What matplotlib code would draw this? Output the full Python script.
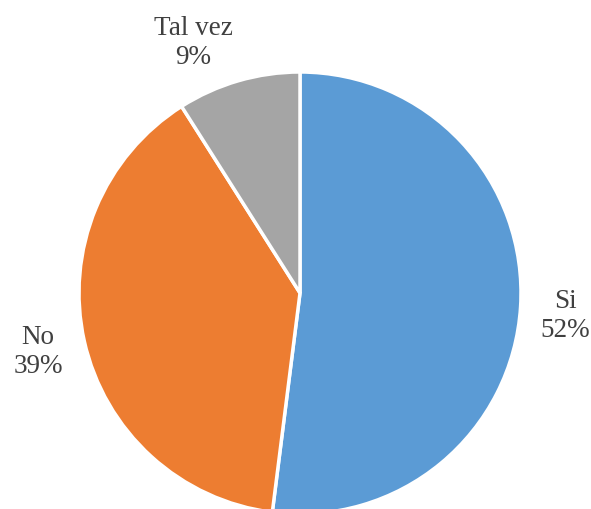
import matplotlib.pyplot as plt

# data
categories = ['Si', 'No', 'Tal vez']
values = [52, 39, 9]
colors = ['#5B9BD5', '#ED7D31', '#A5A5A5']

W, H = 591, 509
fig = plt.figure(figsize=(W / 100, H / 100), dpi=100)
ax = fig.add_axes([0, 0, 1, 1])

labels = [f'{c}\n{v}%' for c, v in zip(categories, values)]
wedges, texts = ax.pie(values, colors=colors, labels=labels, startangle=90,
                       counterclock=False, center=(300, H - 293), radius=221,
                       labeldistance=1.21, frame=True,
                       wedgeprops=dict(edgecolor='white', linewidth=2.5),
                       textprops=dict(fontfamily='Liberation Serif', fontsize=19.5,
                                      color='#404040', linespacing=1.2))
for t in texts:
    t.set_ha('center')
    t.set_va('center')
# Excel-style label spots
texts[0].set_position((565, H - 316))
texts[1].set_position((38, H - 352))
texts[2].set_position((193, H - 43))
ax.set_xlim(0, W)
ax.set_ylim(0, H)
ax.set_aspect('equal')
ax.axis('off')

plt.savefig('out.png', dpi=100)
